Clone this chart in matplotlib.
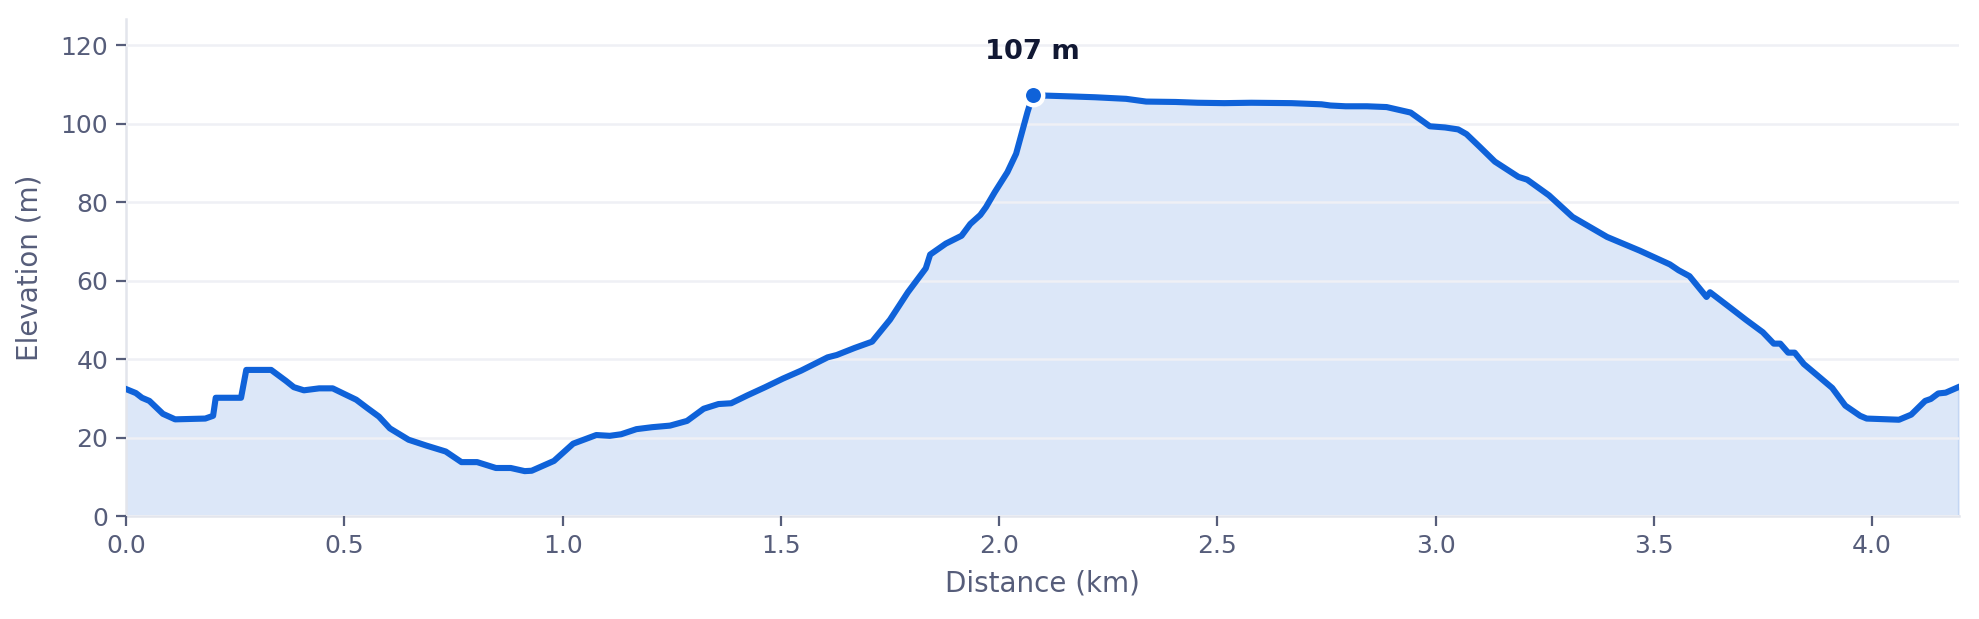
import matplotlib.pyplot as plt
import numpy as np

# elevation profile
distance_km = [
    0.000, 0.022, 0.036, 0.053, 0.084, 0.112, 0.181, 0.199, 0.205, 0.263,
    0.275, 0.332, 0.366, 0.384, 0.407, 0.442, 0.473, 0.499, 0.527, 0.552,
    0.579, 0.604, 0.647, 0.688, 0.732, 0.768, 0.804, 0.847, 0.881, 0.913,
    0.929, 0.980, 1.024, 1.077, 1.108, 1.134, 1.169, 1.205, 1.246, 1.285,
    1.323, 1.357, 1.386, 1.423, 1.464, 1.505, 1.546, 1.607, 1.628, 1.669,
    1.709, 1.750, 1.791, 1.832, 1.842, 1.878, 1.914, 1.934, 1.957, 1.970,
    1.990, 2.019, 2.039, 2.065, 2.077, 2.113, 2.169, 2.220, 2.291, 2.337,
    2.404, 2.455, 2.516, 2.578, 2.670, 2.739, 2.759, 2.794, 2.843, 2.888,
    2.943, 2.987, 3.022, 3.052, 3.071, 3.101, 3.136, 3.190, 3.210, 3.260,
    3.314, 3.393, 3.468, 3.537, 3.557, 3.582, 3.621, 3.629, 3.676, 3.711,
    3.750, 3.775, 3.790, 3.808, 3.823, 3.844, 3.874, 3.909, 3.939, 3.973,
    3.988, 4.062, 4.090, 4.122, 4.135, 4.152, 4.169, 4.200,
]
elevation_m = [
    32.4, 31.4, 30.2, 29.4, 26.1, 24.7, 24.9, 25.6, 30.2, 30.2,
    37.3, 37.3, 34.5, 32.9, 32.1, 32.6, 32.6, 31.2, 29.7, 27.6,
    25.4, 22.4, 19.5, 18.0, 16.5, 13.8, 13.8, 12.3, 12.3, 11.5,
    11.6, 14.1, 18.5, 20.7, 20.5, 20.9, 22.2, 22.7, 23.1, 24.3,
    27.4, 28.6, 28.8, 30.8, 32.9, 35.1, 37.1, 40.5, 41.1, 42.9,
    44.5, 50.1, 57.1, 63.2, 66.7, 69.5, 71.5, 74.5, 76.8, 78.8,
    82.6, 87.7, 92.4, 103.0, 107.3, 107.2, 107.0, 106.8, 106.4, 105.7,
    105.6, 105.4, 105.3, 105.4, 105.3, 105.0, 104.7, 104.5, 104.5, 104.3,
    102.9, 99.4, 99.1, 98.6, 97.4, 94.2, 90.4, 86.5, 85.8, 81.8,
    76.3, 71.2, 67.7, 64.2, 62.7, 61.2, 55.9, 57.1, 53.1, 50.1,
    46.9, 44.0, 44.0, 41.7, 41.7, 38.8, 36.0, 32.7, 28.2, 25.6,
    24.9, 24.6, 25.9, 29.4, 29.9, 31.3, 31.5, 33.0,
]

x = np.array(distance_km)
y = np.array(elevation_m)

line_color = '#0f62d9'
text_color = '#565d7a'

fig = plt.figure(figsize=(9.895, 3.095), dpi=200)
ax = fig.add_axes([0.0638, 0.166, 0.9262, 0.803])

ax.fill_between(x, 0, y, color='#dce7f8', linewidth=0, zorder=1)
ax.plot([x[-1], x[-1]], [0, y[-1]], color='#c4d6f3', linewidth=1.2, zorder=1)
ax.plot(x, y, color=line_color, linewidth=2.2, solid_joinstyle='round', zorder=3)

# highest point
i_max = int(np.argmax(y))
ax.plot(x[i_max], y[i_max], 'o', color=line_color, markersize=7,
        markeredgecolor='white', markeredgewidth=1.6, zorder=4)
ax.annotate(f'{round(y[i_max])} m', (x[i_max], y[i_max]),
            xytext=(0, 11), textcoords='offset points', ha='center', va='bottom',
            fontsize=9.8, fontweight='bold', color='#111833')

ax.set_xlim(0, x[-1])
ax.set_ylim(0, 126.7)
ax.set_xticks(np.arange(0, 4.01, 0.5))
ax.set_yticks(np.arange(0, 121, 20))
ax.xaxis.set_major_formatter(plt.FormatStrFormatter('%.1f'))

ax.grid(axis='y', color='#eff0f5', linewidth=0.9, zorder=2)
ax.grid(axis='x', visible=False)
ax.set_axisbelow(False)

for side in ['top', 'right']:
    ax.spines[side].set_visible(False)
ax.spines['left'].set_color('#e3e5ec')
ax.spines['bottom'].set_color('#e3e5ec')
ax.spines['left'].set_linewidth(0.9)
ax.spines['bottom'].set_linewidth(0.9)

ax.tick_params(axis='both', colors=text_color, labelsize=9, length=3.5,
               width=0.8, direction='out', pad=3)
ax.set_xlabel('Distance (km)', fontsize=10, color=text_color, labelpad=4)
ax.set_ylabel('Elevation (m)', fontsize=10, color=text_color, labelpad=6)

fig.savefig('out.png', dpi=200, facecolor='white')
